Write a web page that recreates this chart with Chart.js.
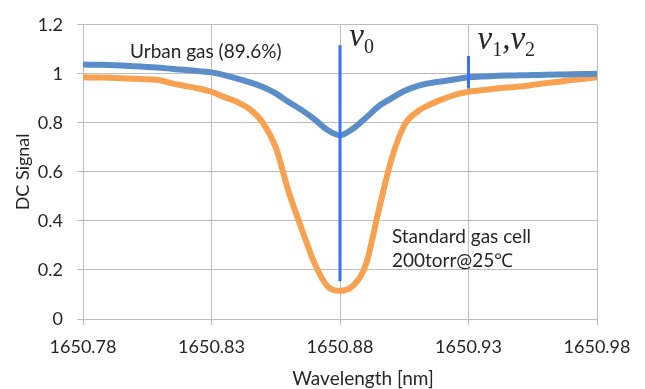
<!DOCTYPE html>
<html>
<head>
<meta charset="utf-8">
<script src="https://cdn.jsdelivr.net/npm/chart.js@4.4.1/dist/chart.umd.min.js"></script>
<style>
  html, body { margin: 0; padding: 0; background: #fff; }
</style>
</head>
<body>
<canvas id="chart" width="645" height="389"></canvas>
<script>
// wavelength samples [nm]
const wavelengths = [
  1650.780, 1650.785, 1650.790, 1650.795, 1650.800, 1650.805, 1650.810, 1650.815,
  1650.820, 1650.825, 1650.830, 1650.835, 1650.840, 1650.845, 1650.850, 1650.855,
  1650.860, 1650.865, 1650.870, 1650.875, 1650.880, 1650.885, 1650.890, 1650.895,
  1650.900, 1650.905, 1650.910, 1650.915, 1650.920, 1650.925, 1650.930, 1650.935,
  1650.940, 1650.945, 1650.950, 1650.955, 1650.960, 1650.965, 1650.970, 1650.975,
  1650.980
];
// urban gas (89.6%)
const urbanGas = [
  1.038, 1.037, 1.036, 1.034, 1.031, 1.028, 1.025, 1.020,
  1.016, 1.011, 1.006, 0.995, 0.980, 0.965, 0.946, 0.920,
  0.885, 0.853, 0.815, 0.772, 0.750, 0.776, 0.820, 0.867,
  0.900, 0.930, 0.950, 0.962, 0.970, 0.978, 0.986, 0.989,
  0.991, 0.993, 0.994, 0.995, 0.996, 0.997, 0.998, 0.999,
  1.000
];
// standard gas cell 200torr@25C
const standardCell = [
  0.986, 0.985, 0.984, 0.982, 0.980, 0.978, 0.974, 0.960,
  0.950, 0.940, 0.927, 0.905, 0.885, 0.855, 0.800, 0.700,
  0.520, 0.370, 0.230, 0.135, 0.115, 0.135, 0.220, 0.440,
  0.650, 0.790, 0.845, 0.875, 0.897, 0.915, 0.927, 0.933,
  0.939, 0.944, 0.948, 0.955, 0.962, 0.968, 0.975, 0.980,
  0.986
];
const xTicks = [1650.78, 1650.83, 1650.88, 1650.93, 1650.98];
// vertical markers: position and y extent
const nu0Marker = [1650.88, 0.154, 1.117];
const nu12Marker = [1650.93, 0.94, 1.073];

const FONT = 'Lato';
const TEXT = '#262626';
const GRID = '#bdbdbd';

const toPoints = (vals) => vals.map((v, i) => ({ x: wavelengths[i], y: v }));
const markerPoints = (m) => [{ x: m[0], y: m[1] }, { x: m[0], y: m[2] }];

// text annotations drawn on top of the plot
const annotations = {
  id: 'annotations',
  afterDatasetsDraw(chart) {
    const { ctx, scales: { x, y } } = chart;
    ctx.save();
    ctx.fillStyle = TEXT;
    ctx.textBaseline = 'middle';
    ctx.textAlign = 'left';
    ctx.font = `19px ${FONT}`;
    ctx.fillText('Urban gas (89.6%)', x.getPixelForValue(1650.7983), y.getPixelForValue(1.09));
    ctx.fillText('Standard gas cell', x.getPixelForValue(1650.9002), y.getPixelForValue(0.333));
    ctx.fillText('200torr@25\u2103', x.getPixelForValue(1650.9002), y.getPixelForValue(0.238));

    // greek nu labels with subscripts
    const nu = (px, py, parts) => {
      let cx = px;
      ctx.textBaseline = 'alphabetic';
      parts.forEach(p => {
        ctx.font = p.sub ? '20px "Liberation Serif"' : 'italic 33px "Liberation Serif"';
        ctx.fillText(p.t, cx, p.sub ? py + 7 : py);
        cx += ctx.measureText(p.t).width;
      });
    };
    nu(x.getPixelForValue(1650.8836), 46, [{ t: '\u03bd' }, { t: '0', sub: true }]);
    nu(x.getPixelForValue(1650.9335), 49, [
      { t: '\u03bd' }, { t: '1', sub: true }, { t: ',', sub: false },
      { t: '\u03bd' }, { t: '2', sub: true }
    ]);

    // x axis title
    ctx.font = `19px ${FONT}`;
    ctx.textAlign = 'center';
    ctx.textBaseline = 'middle';
    ctx.fillText('Wavelength [nm]', 363, 379);
    ctx.restore();
  }
};

new Chart(document.getElementById('chart'), {
  type: 'line',
  data: {
    datasets: [
      {
        label: 'nu0',
        data: markerPoints(nu0Marker),
        borderColor: '#3a6ff7',
        borderWidth: 3,
        pointRadius: 0,
        order: 0
      },
      {
        label: 'nu12',
        data: markerPoints(nu12Marker),
        borderColor: '#3a6ff7',
        borderWidth: 3,
        pointRadius: 0,
        order: 0
      },
      {
        label: 'Urban gas (89.6%)',
        data: toPoints(urbanGas),
        borderColor: '#5b8dc8',
        borderWidth: 6,
        pointRadius: 0,
        cubicInterpolationMode: 'monotone',
        order: 1
      },
      {
        label: 'Standard gas cell',
        data: toPoints(standardCell),
        borderColor: '#f8a150',
        borderWidth: 6,
        pointRadius: 0,
        cubicInterpolationMode: 'monotone',
        order: 2
      }
    ]
  },
  options: {
    responsive: false,
    animation: false,
    layout: { padding: { left: 0, top: 16, right: 48, bottom: 0 } },
    plugins: { legend: { display: false }, tooltip: { enabled: false } },
    scales: {
      x: {
        type: 'linear',
        min: 1650.78,
        max: 1650.98,
        afterBuildTicks: (s) => { s.ticks = xTicks.map(v => ({ value: v })); },
        afterFit: (s) => { s.height = 70; },
        grid: { color: GRID, tickLength: 6 },
        border: { color: GRID },
        ticks: {
          color: TEXT,
          font: { family: FONT, size: 18 },
          padding: 11,
          maxRotation: 0,
          callback: (v) => v.toFixed(2)
        }
      },
      y: {
        min: 0,
        max: 1.2,
        afterFit: (s) => { s.width = 83; },
        grid: { color: GRID, tickLength: 6 },
        border: { color: GRID },
        ticks: {
          stepSize: 0.2,
          color: TEXT,
          font: { family: FONT, size: 18 },
          padding: 14,
          callback: (v) => String(Number(v.toFixed(1)))
        },
        title: {
          display: true,
          text: 'DC Signal',
          color: TEXT,
          font: { family: FONT, size: 18 },
          padding: { top: 12, bottom: 0 }
        }
      }
    }
  },
  plugins: [annotations]
});
</script>
</body>
</html>
